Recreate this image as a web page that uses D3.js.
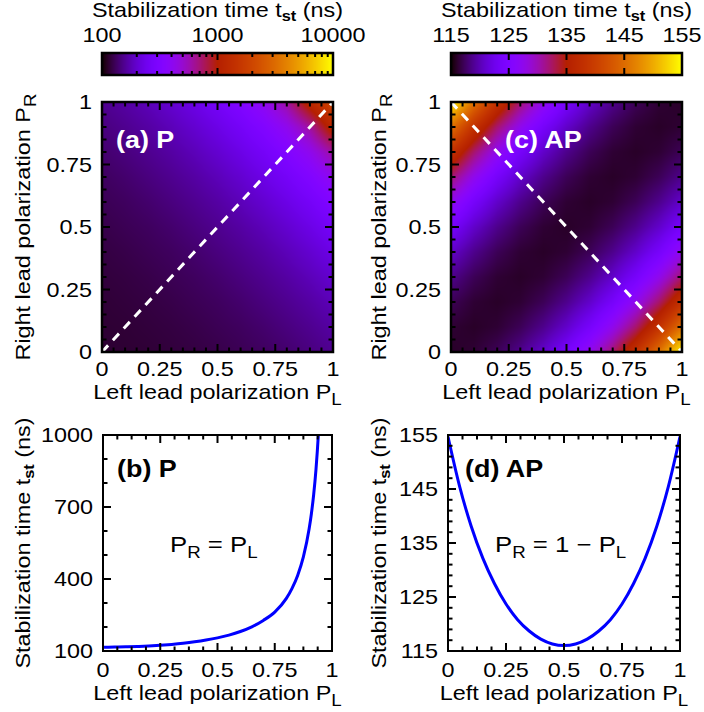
<!DOCTYPE html>
<html>
<head>
<meta charset="utf-8">
<script src="https://cdn.jsdelivr.net/npm/d3@7"></script>
<style>
  body { margin: 0; background: #fff; }
  svg { display: block; }
  text { font-family: "Liberation Sans", Arial, Helvetica, sans-serif; white-space: pre; }
</style>
</head>
<body>
<svg id="fig" width="704" height="712"></svg>
<script>
// ---------------- data ----------------
// polarization grid (columns: P_L, rows: P_R)
const polGrid = [0, 0.1, 0.2, 0.3, 0.4, 0.5, 0.6, 0.7, 0.8, 0.9, 1];

// stabilization time (ns), parallel configuration; row j = P_R, column i = P_L
const tstParallel = [
  [116, 116, 117, 119, 121, 124, 128, 132, 138, 146, 155],
  [116, 117, 119, 121, 124, 128, 132, 138, 146, 155, 166],
  [117, 119, 121, 124, 128, 132, 138, 146, 155, 166, 181],
  [119, 121, 124, 128, 132, 138, 146, 155, 166, 181, 201],
  [121, 124, 128, 132, 138, 146, 155, 166, 181, 201, 228],
  [124, 128, 132, 138, 146, 155, 166, 181, 201, 228, 265],
  [128, 132, 138, 146, 155, 166, 181, 201, 228, 265, 322],
  [132, 138, 146, 155, 166, 181, 201, 228, 265, 322, 418],
  [138, 146, 155, 166, 181, 201, 228, 265, 322, 418, 611],
  [146, 155, 166, 181, 201, 228, 265, 322, 418, 611, 1190],
  [155, 166, 181, 201, 228, 265, 322, 418, 611, 1190, 2000]
];

// stabilization time (ns), antiparallel configuration
const tstAntiparallel = [
  [116.0, 116.3, 117.2, 118.7, 120.8, 123.7, 127.5, 132.2, 138.1, 145.5, 154.7],
  [116.3, 116.0, 116.3, 117.2, 118.7, 120.8, 123.7, 127.5, 132.2, 138.1, 145.5],
  [117.2, 116.3, 116.0, 116.3, 117.2, 118.7, 120.8, 123.7, 127.5, 132.2, 138.1],
  [118.7, 117.2, 116.3, 116.0, 116.3, 117.2, 118.7, 120.8, 123.7, 127.5, 132.2],
  [120.8, 118.7, 117.2, 116.3, 116.0, 116.3, 117.2, 118.7, 120.8, 123.7, 127.5],
  [123.7, 120.8, 118.7, 117.2, 116.3, 116.0, 116.3, 117.2, 118.7, 120.8, 123.7],
  [127.5, 123.7, 120.8, 118.7, 117.2, 116.3, 116.0, 116.3, 117.2, 118.7, 120.8],
  [132.2, 127.5, 123.7, 120.8, 118.7, 117.2, 116.3, 116.0, 116.3, 117.2, 118.7],
  [138.1, 132.2, 127.5, 123.7, 120.8, 118.7, 117.2, 116.3, 116.0, 116.3, 117.2],
  [145.5, 138.1, 132.2, 127.5, 123.7, 120.8, 118.7, 117.2, 116.3, 116.0, 116.3],
  [154.7, 145.5, 138.1, 132.2, 127.5, 123.7, 120.8, 118.7, 117.2, 116.3, 116.0]
];

// cut along P_R = P_L
const cutPL_P = [0, 0.05, 0.1, 0.15, 0.2, 0.25, 0.3, 0.35, 0.4, 0.45, 0.5, 0.55, 0.6, 0.65, 0.7, 0.75,
                 0.8, 0.825, 0.85, 0.875, 0.9, 0.91, 0.92, 0.93, 0.94, 0.95];
const cutT_P = [116, 116.3, 117.2, 118.7, 120.8, 123.7, 127.5, 132.2, 138.1, 145.5, 154.7, 166.3, 181.3, 200.9, 227.5, 262,
                318, 360, 415, 492, 608, 672, 752, 856, 995, 1189.7];

// cut along P_R = 1 - P_L
const cutPL_AP = [0, 0.05, 0.1, 0.15, 0.2, 0.25, 0.3, 0.35, 0.4, 0.45, 0.5, 0.55, 0.6, 0.65, 0.7, 0.75, 0.8, 0.85, 0.9, 0.95, 1];
const cutT_AP = [154.7, 145.5, 138.1, 132.2, 127.5, 123.7, 120.8, 118.7, 117.2, 116.3, 116.0,
                 116.3, 117.2, 118.7, 120.8, 123.7, 127.5, 132.2, 138.1, 145.5, 154.7];

// ticks and labels
const polTicks = [0, 0.25, 0.5, 0.75, 1];
const polTickLabels = ["0", "0.25", "0.5", "0.75", "1"];
const cbTicksP = [100, 1000, 10000];
const cbTickLabelsP = ["100", "1000", "10000"];
const cbTicksAP = [115, 125, 135, 145, 155];
const tTicksP = [100, 400, 700, 1000];
const tTicksAP = [115, 125, 135, 145, 155];

// ---------------- drawing ----------------
const SX = 1.17;            // horizontal stretch of all lettering
const svg = d3.select("#fig");

// gnuplot default pm3d palette (rgbformulae 7,5,15)
function pm3d(t) {
  t = Math.max(0, Math.min(1, t));
  return [255 * Math.sqrt(t), 255 * t * t * t, 255 * Math.max(0, Math.sin(2 * Math.PI * t))];
}

function addText(parent, o, segs) {
  const el = parent.append("text")
    .attr("transform", `translate(${o.x},${o.y})` + (o.rot ? ` rotate(${o.rot})` : "") + ` scale(${SX},1)`)
    .attr("text-anchor", o.anchor || "middle")
    .attr("font-size", o.size || 20)
    .attr("font-weight", o.weight || "normal")
    .attr("fill", o.fill || "#000");
  let shift = 0;
  (typeof segs === "string" ? [{ t: segs }] : segs).forEach(s => {
    const ts = el.append("tspan").text(s.t);
    const want = s.sub || 0;
    if (want !== shift) { ts.attr("dy", want - shift); shift = want; }
    if (s.size) ts.attr("font-size", s.size);
    if (s.weight) ts.attr("font-weight", s.weight);
  });
  return el;
}

function tickLine(g, x1, y1, x2, y2, w) {
  g.append("line").attr("x1", x1).attr("y1", y1).attr("x2", x2).attr("y2", y2)
    .attr("stroke", "#000").attr("stroke-width", w || 2);
}

// inward ticks on all four sides
function frameTicks(g, xs, ys, xMaj, xMin, yMaj, yMin) {
  const [xl, xr] = xs.range(), [yb, yt] = ys.range();
  const MAJ = 8, MIN = 4.5;
  xMaj.forEach(v => { tickLine(g, xs(v), yb, xs(v), yb - MAJ); tickLine(g, xs(v), yt, xs(v), yt + MAJ); });
  xMin.forEach(v => { tickLine(g, xs(v), yb, xs(v), yb - MIN); tickLine(g, xs(v), yt, xs(v), yt + MIN); });
  yMaj.forEach(v => { tickLine(g, xl, ys(v), xl + MAJ, ys(v)); tickLine(g, xr, ys(v), xr - MAJ, ys(v)); });
  yMin.forEach(v => { tickLine(g, xl, ys(v), xl + MIN, ys(v)); tickLine(g, xr, ys(v), xr - MIN, ys(v)); });
}

function minorBetween(step, lo, hi, majors) {
  return d3.range(lo, hi + 1e-9, step).filter(v => !majors.some(m => Math.abs(m - v) < 1e-6));
}

function frameRect(g, xs, ys, w) {
  const [xl, xr] = xs.range(), [yb, yt] = ys.range();
  g.append("rect").attr("x", xl).attr("y", yt).attr("width", xr - xl).attr("height", yb - yt)
    .attr("fill", "none").attr("stroke", "#000").attr("stroke-width", w);
}

function axisLabels(g, xs, ys, xTicks, xLabels, yTicks, yLabels, xBase) {
  const [xl] = xs.range();
  xTicks.forEach((v, i) => addText(g, { x: xs(v), y: xBase }, xLabels[i]));
  yTicks.forEach((v, i) => addText(g, { x: xl - 10, y: ys(v) + 7, anchor: "end" }, yLabels[i]));
}

// heat map as a raster of the bilinearly sampled grid
function heatmap(g, grid, xs, ys, norm, logSpace) {
  const [xl, xr] = xs.range(), [yb, yt] = ys.range();
  const w = Math.round(xr - xl), h = Math.round(yb - yt);
  const f = logSpace ? Math.log10 : v => v;
  const G = grid.map(r => r.map(f));
  const gi = d3.scaleLinear().domain(d3.extent(polGrid)).range([0, polGrid.length - 1]).clamp(true);
  const n = polGrid.length - 1;
  const cv = document.createElement("canvas");
  cv.width = w; cv.height = h;
  const ctx = cv.getContext("2d");
  const img = ctx.createImageData(w, h);
  for (let py = 0; py < h; py++) {
    const pr = ys.invert(yt + py + 0.5);
    const u = gi(pr); const j0 = Math.min(Math.floor(u), n - 1); const fy = u - j0;
    for (let px = 0; px < w; px++) {
      const pl = xs.invert(xl + px + 0.5);
      const v = gi(pl); const i0 = Math.min(Math.floor(v), n - 1); const fx = v - i0;
      const val = (G[j0][i0] * (1 - fx) + G[j0][i0 + 1] * fx) * (1 - fy) +
                  (G[j0 + 1][i0] * (1 - fx) + G[j0 + 1][i0 + 1] * fx) * fy;
      const c = pm3d(norm(logSpace ? Math.pow(10, val) : val));
      const k = 4 * (py * w + px);
      img.data[k] = c[0]; img.data[k + 1] = c[1]; img.data[k + 2] = c[2]; img.data[k + 3] = 255;
    }
  }
  ctx.putImageData(img, 0, 0);
  g.append("image").attr("x", xl).attr("y", yt).attr("width", w).attr("height", h)
    .attr("preserveAspectRatio", "none").attr("href", cv.toDataURL());
}

function colorbar(g, cb, norm, y0, y1, majors, minors, labels) {
  const [xl, xr] = cb.range();
  const w = Math.round(xr - xl);
  const cv = document.createElement("canvas");
  cv.width = w; cv.height = 1;
  const ctx = cv.getContext("2d");
  const img = ctx.createImageData(w, 1);
  for (let px = 0; px < w; px++) {
    const c = pm3d(norm(cb.invert(xl + px + 0.5)));
    img.data[4 * px] = c[0]; img.data[4 * px + 1] = c[1]; img.data[4 * px + 2] = c[2]; img.data[4 * px + 3] = 255;
  }
  ctx.putImageData(img, 0, 0);
  g.append("image").attr("x", xl).attr("y", y0).attr("width", w).attr("height", y1 - y0)
    .attr("preserveAspectRatio", "none").attr("href", cv.toDataURL());
  majors.slice(1, -1).forEach(v => { tickLine(g, cb(v), y0, cb(v), y0 + 7); tickLine(g, cb(v), y1, cb(v), y1 - 7); });
  minors.forEach(v => { tickLine(g, cb(v), y0, cb(v), y0 + 4); tickLine(g, cb(v), y1, cb(v), y1 - 4); });
  g.append("rect").attr("x", xl).attr("y", y0).attr("width", xr - xl).attr("height", y1 - y0)
    .attr("fill", "none").attr("stroke", "#000").attr("stroke-width", 2.5);
  majors.forEach((v, i) => addText(g, { x: cb(v), y: 42 }, labels[i]));
  addText(g, { x: (xl + xr) / 2, y: 17 },
    [{ t: "Stabilization time t" }, { t: "st", sub: 4, size: 14, weight: "bold" }, { t: " (ns)" }]);
}

const heatMinor = minorBetween(0.05, 0, 1, polTicks);
const lineMinorX = minorBetween(0.0625, 0, 1, polTicks);
const titlePL = [{ t: "Left lead polarization P" }, { t: "L", sub: 6, size: 16 }];
const titlePR = [{ t: "Right lead polarization P" }, { t: "R", sub: 6, size: 16 }];
const titleT = [{ t: "Stabilization time t" }, { t: "st", sub: 4, size: 14, weight: "bold" }, { t: " (ns)" }];

// ---- top left: parallel map with log colour bar ----
{
  const g = svg.append("g");
  const xs = d3.scaleLinear().domain([0, 1]).range([102, 333]);
  const ys = d3.scaleLinear().domain([0, 1]).range([352, 102]);
  const norm = d3.scaleLog().domain([100, 10000]).range([0, 1]).clamp(true);
  const cb = d3.scaleLog().domain([100, 10000]).range([102, 333]);
  colorbar(g, cb, norm, 53, 75, cbTicksP,
    [200, 300, 400, 500, 600, 700, 800, 900, 2000, 3000, 4000, 5000, 6000, 7000, 8000, 9000], cbTickLabelsP);
  heatmap(g, tstParallel, xs, ys, norm, true);
  g.append("line").attr("x1", xs(polGrid[0])).attr("y1", ys(polGrid[0]))
    .attr("x2", xs(polGrid[polGrid.length - 1])).attr("y2", ys(polGrid[polGrid.length - 1]))
    .attr("stroke", "#fff").attr("stroke-width", 3).attr("stroke-dasharray", "9,7");
  addText(g, { x: 116, y: 148, anchor: "start", size: 23, weight: "bold", fill: "#fff" }, "(a) P");
  frameTicks(g, xs, ys, polTicks, heatMinor, polTicks, heatMinor);
  frameRect(g, xs, ys, 2.5);
  axisLabels(g, xs, ys, polTicks, polTickLabels, polTicks, polTickLabels, 376);
  addText(g, { x: 217.5, y: 399 }, titlePL);
  addText(g, { x: 30, y: 227, rot: -90 }, titlePR);
}

// ---- top right: antiparallel map with linear colour bar ----
{
  const g = svg.append("g");
  const xs = d3.scaleLinear().domain([0, 1]).range([451, 682]);
  const ys = d3.scaleLinear().domain([0, 1]).range([352, 102]);
  const norm = d3.scaleLinear().domain([115, 155]).range([0, 1]).clamp(true);
  const cb = d3.scaleLinear().domain([115, 155]).range([451, 682]);
  colorbar(g, cb, norm, 53, 75, cbTicksAP, [], cbTicksAP.map(String));
  heatmap(g, tstAntiparallel, xs, ys, norm, false);
  g.append("line").attr("x1", xs(polGrid[0])).attr("y1", ys(polGrid[polGrid.length - 1]))
    .attr("x2", xs(polGrid[polGrid.length - 1])).attr("y2", ys(polGrid[0]))
    .attr("stroke", "#fff").attr("stroke-width", 3).attr("stroke-dasharray", "9,7");
  addText(g, { x: 505, y: 148, anchor: "start", size: 23, weight: "bold", fill: "#fff" }, "(c) AP");
  frameTicks(g, xs, ys, polTicks, heatMinor, polTicks, heatMinor);
  frameRect(g, xs, ys, 2.5);
  axisLabels(g, xs, ys, polTicks, polTickLabels, polTicks, polTickLabels, 376);
  addText(g, { x: 566.5, y: 399 }, titlePL);
  addText(g, { x: 386, y: 227, rot: -90 }, titlePR);
}

// ---- bottom left: cut along P_R = P_L ----
{
  const g = svg.append("g");
  const xs = d3.scaleLinear().domain([0, 1]).range([103, 332]);
  const ys = d3.scaleLinear().domain([100, 1000]).range([651, 435]);
  g.append("clipPath").attr("id", "clipB").append("rect")
    .attr("x", 103).attr("y", 435).attr("width", 229).attr("height", 216);
  const line = d3.line().x(d => xs(d[0])).y(d => ys(d[1])).curve(d3.curveMonotoneX);
  g.append("path").datum(d3.zip(cutPL_P, cutT_P)).attr("d", line).attr("clip-path", "url(#clipB)")
    .attr("fill", "none").attr("stroke", "#0000ff").attr("stroke-width", 3);
  frameTicks(g, xs, ys, polTicks, lineMinorX, tTicksP, [200, 300, 500, 600, 800, 900]);
  frameRect(g, xs, ys, 2);
  axisLabels(g, xs, ys, polTicks, polTickLabels, tTicksP, tTicksP.map(String), 677);
  addText(g, { x: 117, y: 477, anchor: "start", size: 23, weight: "bold" }, "(b) P");
  addText(g, { x: 170, y: 552, anchor: "start", size: 22 },
    [{ t: "P" }, { t: "R", sub: 6, size: 16 }, { t: " = P" }, { t: "L", sub: 6, size: 16 }]);
  addText(g, { x: 217.5, y: 700 }, titlePL);
  addText(g, { x: 30, y: 543, rot: -90 }, titleT);
}

// ---- bottom right: cut along P_R = 1 - P_L ----
{
  const g = svg.append("g");
  const xs = d3.scaleLinear().domain([0, 1]).range([448, 680]);
  const ys = d3.scaleLinear().domain([115, 155]).range([651, 435]);
  g.append("clipPath").attr("id", "clipD").append("rect")
    .attr("x", 448).attr("y", 435).attr("width", 232).attr("height", 216);
  const line = d3.line().x(d => xs(d[0])).y(d => ys(d[1])).curve(d3.curveMonotoneX);
  g.append("path").datum(d3.zip(cutPL_AP, cutT_AP)).attr("d", line).attr("clip-path", "url(#clipD)")
    .attr("fill", "none").attr("stroke", "#0000ff").attr("stroke-width", 3);
  frameTicks(g, xs, ys, polTicks, lineMinorX, tTicksAP, minorBetween(2, 115, 155, tTicksAP));
  frameRect(g, xs, ys, 2);
  axisLabels(g, xs, ys, polTicks, polTickLabels, tTicksAP, tTicksAP.map(String), 677);
  addText(g, { x: 465, y: 477, anchor: "start", size: 23, weight: "bold" }, "(d) AP");
  addText(g, { x: 495, y: 552, anchor: "start", size: 22 },
    [{ t: "P" }, { t: "R", sub: 6, size: 16 }, { t: " = 1 \u2212 P" }, { t: "L", sub: 6, size: 16 }]);
  addText(g, { x: 564, y: 700 }, titlePL);
  addText(g, { x: 386, y: 543, rot: -90 }, titleT);
}
</script>
</body>
</html>
